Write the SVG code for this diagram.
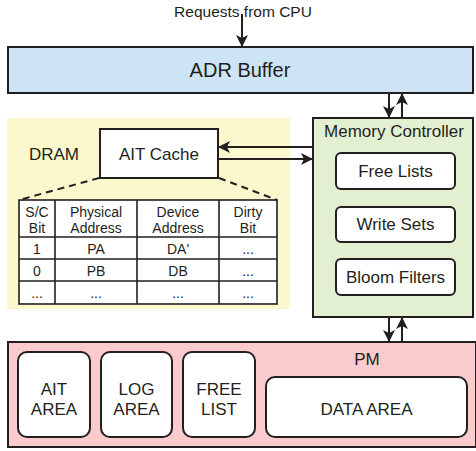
<svg xmlns="http://www.w3.org/2000/svg" width="476" height="451" viewBox="0 0 476 451">
  <defs>
    <style>
      .lbl { font-family: "Liberation Sans", Arial, sans-serif; fill: #231f20; text-anchor: middle; }
      .big { font-size: 17px; }
      .sm { font-size: 14px; }
      .box { stroke: #231f20; stroke-width: 2; }
      .cell { fill: none; stroke: #231f20; stroke-width: 1.6; }
      .wire { stroke: #231f20; stroke-width: 2; fill: none; }
    </style>
    <marker id="arrow" markerUnits="userSpaceOnUse" markerWidth="14" markerHeight="12" refX="12" refY="6" orient="auto">
      <path d="M0,0 L12,6 L0,12 L3,6 z" fill="#231f20"/>
    </marker>
  </defs>

  <!-- DRAM region -->
  <g id="dram">
    <rect x="7" y="118" width="283" height="191" fill="#fbf8cd"/>
    <text class="lbl big" x="54" y="160">DRAM</text>
  </g>

  <!-- ADR buffer -->
  <g id="adr-buffer">
    <rect class="box" x="8" y="47" width="465" height="46" fill="#cde4f6"/>
    <text class="lbl" x="240" y="77" font-size="20">ADR Buffer</text>
  </g>

  <!-- AIT cache -->
  <g id="ait-cache">
    <rect class="box" x="100" y="129" width="118" height="49" fill="#ffffff"/>
    <text class="lbl big" x="159" y="160">AIT Cache</text>
  </g>

  <!-- AIT table -->
  <g id="ait-table">
    <rect x="19" y="200" width="258" height="104" fill="#ffffff"/>
    <rect class="cell" x="19" y="200" width="258" height="104" stroke-width="2"/>
    <line class="cell" x1="55" y1="200" x2="55" y2="304"/>
    <line class="cell" x1="137" y1="200" x2="137" y2="304"/>
    <line class="cell" x1="219" y1="200" x2="219" y2="304"/>
    <line class="cell" x1="19" y1="237" x2="277" y2="237"/>
    <line class="cell" x1="19" y1="259" x2="277" y2="259"/>
    <line class="cell" x1="19" y1="281" x2="277" y2="281"/>
    <text class="lbl sm" x="37" y="217">S/C</text>
    <text class="lbl sm" x="37" y="233">Bit</text>
    <text class="lbl sm" x="96" y="217">Physical</text>
    <text class="lbl sm" x="96" y="233">Address</text>
    <text class="lbl sm" x="178" y="217">Device</text>
    <text class="lbl sm" x="178" y="233">Address</text>
    <text class="lbl sm" x="248" y="217">Dirty</text>
    <text class="lbl sm" x="248" y="233">Bit</text>
    <text class="lbl sm" x="37" y="254">1</text>
    <text class="lbl sm" x="96" y="254">PA</text>
    <text class="lbl sm" x="178" y="254">DA'</text>
    <text class="lbl sm" x="248" y="254">...</text>
    <text class="lbl sm" x="37" y="276">0</text>
    <text class="lbl sm" x="96" y="276">PB</text>
    <text class="lbl sm" x="178" y="276">DB</text>
    <text class="lbl sm" x="248" y="276">...</text>
    <text class="lbl sm" x="37" y="298">...</text>
    <text class="lbl sm" x="96" y="298">...</text>
    <text class="lbl sm" x="178" y="298">...</text>
    <text class="lbl sm" x="248" y="298">...</text>
  </g>

  <!-- Memory controller -->
  <g id="memory-controller">
    <rect class="box" x="313" y="118" width="160" height="199" fill="#e2efd0"/>
    <text class="lbl big" x="394" y="137">Memory Controller</text>
  </g>
  <g id="free-lists">
    <rect class="box" x="336" y="153" width="119" height="36" rx="5" fill="#ffffff"/>
    <text class="lbl big" x="395.5" y="177">Free Lists</text>
  </g>
  <g id="write-sets">
    <rect class="box" x="336" y="207" width="119" height="35" rx="5" fill="#ffffff"/>
    <text class="lbl big" x="395.5" y="230">Write Sets</text>
  </g>
  <g id="bloom-filters">
    <rect class="box" x="336" y="259" width="119" height="36" rx="5" fill="#ffffff"/>
    <text class="lbl big" x="395.5" y="283">Bloom Filters</text>
  </g>

  <!-- Persistent memory -->
  <g id="pm">
    <rect class="box" x="8" y="342" width="468" height="105" fill="#f9cbcc"/>
    <text class="lbl big" x="367" y="365">PM</text>
  </g>
  <g id="ait-area">
    <rect class="box" x="18" y="352" width="72" height="85" rx="9" fill="#ffffff"/>
    <text class="lbl big" x="54" y="395">AIT</text>
    <text class="lbl big" x="54" y="415">AREA</text>
  </g>
  <g id="log-area">
    <rect class="box" x="101" y="352" width="71" height="85" rx="9" fill="#ffffff"/>
    <text class="lbl big" x="136.5" y="395">LOG</text>
    <text class="lbl big" x="136.5" y="415">AREA</text>
  </g>
  <g id="free-list">
    <rect class="box" x="183" y="352" width="72" height="85" rx="9" fill="#ffffff"/>
    <text class="lbl big" x="219" y="395">FREE</text>
    <text class="lbl big" x="219" y="415">LIST</text>
  </g>
  <g id="data-area">
    <rect class="box" x="266" y="377" width="201" height="60" rx="9" fill="#ffffff"/>
    <text class="lbl big" x="366.5" y="415">DATA AREA</text>
  </g>

  <!-- Request label -->
  <text class="lbl" x="243" y="17" font-size="15.5">Requests from CPU</text>

  <!-- Connectors -->
  <g id="connectors">
    <line class="wire" x1="242" y1="14" x2="242" y2="47" marker-end="url(#arrow)"/>
    <line class="wire" x1="389" y1="93" x2="389" y2="118" marker-end="url(#arrow)"/>
    <line class="wire" x1="402" y1="118" x2="402" y2="93" marker-end="url(#arrow)"/>
    <line class="wire" x1="313" y1="147" x2="218" y2="147" marker-end="url(#arrow)"/>
    <line class="wire" x1="218" y1="159" x2="313" y2="159" marker-end="url(#arrow)"/>
    <line class="wire" x1="389" y1="317" x2="389" y2="342" marker-end="url(#arrow)"/>
    <line class="wire" x1="402" y1="342" x2="402" y2="317" marker-end="url(#arrow)"/>
    <line class="wire" x1="99" y1="178" x2="19" y2="200" stroke-dasharray="7,5"/>
    <line class="wire" x1="219" y1="178" x2="277" y2="200" stroke-dasharray="7,5"/>
  </g>
</svg>
